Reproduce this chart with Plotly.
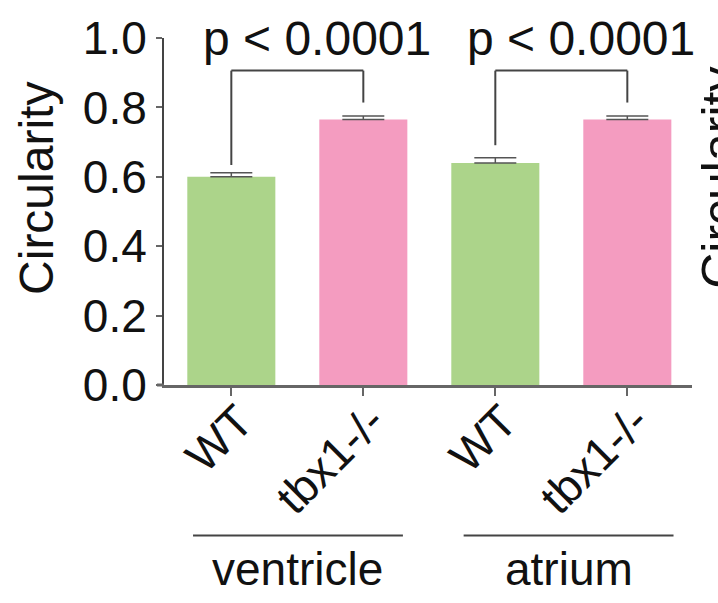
import plotly.graph_objects as go

# ---- data ----
categories = ["WT", "tbx1-/-", "WT ", "tbx1-/- "]
tick_text = ["WT", "tbx1-/-", "WT", "tbx1-/-"]
means = [0.600, 0.765, 0.640, 0.765]
errors = [0.012, 0.010, 0.015, 0.010]
groups = ["ventricle", "atrium"]
group_spans = [(-0.29, 1.30), (1.76, 3.35)]
p_labels = ["p < 0.0001", "p < 0.0001"]
bracket_pairs = [(0, 1), (2, 3)]
bracket_top = 0.906
bracket_leg_bottoms = [(0.634, 0.814), (0.691, 0.814)]
y_ticks = [0.0, 0.2, 0.4, 0.6, 0.8, 1.0]

GREEN = "rgb(172,212,138)"
PINK = "rgb(244,156,192)"
colors = [GREEN, PINK, GREEN, PINK]
FONT = "Liberation Sans, Arial, sans-serif"

fig = go.Figure()
fig.add_trace(go.Bar(
    x=list(range(len(categories))), y=means,
    marker=dict(color=colors, line=dict(width=0)),
    error_y=dict(type="data", array=errors, arrayminus=[0] * len(errors), symmetric=False,
                 visible=True, color="#555555", thickness=1.5, width=21),
    width=0.667, showlegend=False,
))

shapes = []
annotations = []
for (a, b), (la, lb), p in zip(bracket_pairs, bracket_leg_bottoms, p_labels):
    shapes.append(dict(type="line", xref="x", yref="y", x0=a, x1=b, y0=bracket_top, y1=bracket_top,
                       line=dict(color="#444444", width=2)))
    shapes.append(dict(type="line", xref="x", yref="y", x0=a, x1=a, y0=la, y1=bracket_top,
                       line=dict(color="#444444", width=2)))
    shapes.append(dict(type="line", xref="x", yref="y", x0=b, x1=b, y0=lb, y1=bracket_top,
                       line=dict(color="#444444", width=2)))
    annotations.append(dict(x=(a + b) / 2, y=1.0, xref="x", yref="paper", text=p,
                            showarrow=False, xshift=20, yanchor="middle",
                            font=dict(family=FONT, size=48, color="#111111")))

for g, (x0, x1) in zip(groups, group_spans):
    shapes.append(dict(type="line", xref="x", yref="paper", x0=x0, x1=x1, y0=-0.434, y1=-0.434,
                       line=dict(color="#444444", width=2)))
    annotations.append(dict(x=(x0 + x1) / 2, y=-0.53, xref="x", yref="paper", text=g,
                            showarrow=False, yanchor="middle",
                            font=dict(family=FONT, size=46, color="#111111")))

# extend the x-axis baseline slightly left of the y-axis, as in the reference
shapes.append(dict(type="line", xref="paper", yref="paper", x0=-7 / 528, x1=0, y0=0, y1=0,
                   line=dict(color="#666666", width=3)))

# y-axis title
annotations.append(dict(x=(37 - 164) / 528, y=0.565, xref="paper", yref="paper", text="Circularity",
                        showarrow=False, textangle=-90, xanchor="center", yanchor="middle",
                        font=dict(family=FONT, size=48, color="#111111")))
# cropped title of the neighbouring panel on the right edge
annotations.append(dict(x=(720 - 164) / 528, y=0.597, xref="paper", yref="paper", text="Circularity",
                        showarrow=False, textangle=-90, xanchor="center", yanchor="middle",
                        font=dict(family=FONT, size=50, color="#111111")))

fig.update_layout(
    width=718, height=603,
    margin=dict(l=164, r=26, t=35, b=218, pad=0),
    paper_bgcolor="white", plot_bgcolor="white",
    font=dict(family=FONT, color="#111111"),
    bargap=0.333,
    shapes=shapes, annotations=annotations,
    xaxis=dict(range=[-0.51, 3.49], tickmode="array", tickvals=list(range(len(categories))),
               ticktext=tick_text, tickangle=-45, tickfont=dict(size=46, family=FONT, color="#111111"),
               ticklabelshift=8, ticklabelstandoff=-20,
               showline=True, linecolor="#666666", linewidth=3, ticks="outside", ticklen=8,
               tickwidth=2, tickcolor="#666666", showgrid=False, zeroline=False),
    yaxis=dict(range=[0, 1.0], tickmode="array", tickvals=y_ticks,
               ticktext=[f"{v:.1f}" for v in y_ticks],
               tickfont=dict(size=46, family=FONT, color="#111111"),
               showline=True, linecolor="#444444", linewidth=2, ticks="outside", ticklen=6,
               tickwidth=1.5, tickcolor="#666666", showgrid=False, zeroline=False),
)

fig.write_html("out.html", config={"displayModeBar": False},
               post_script="document.body.style.margin='0';document.body.style.overflow='hidden';")
